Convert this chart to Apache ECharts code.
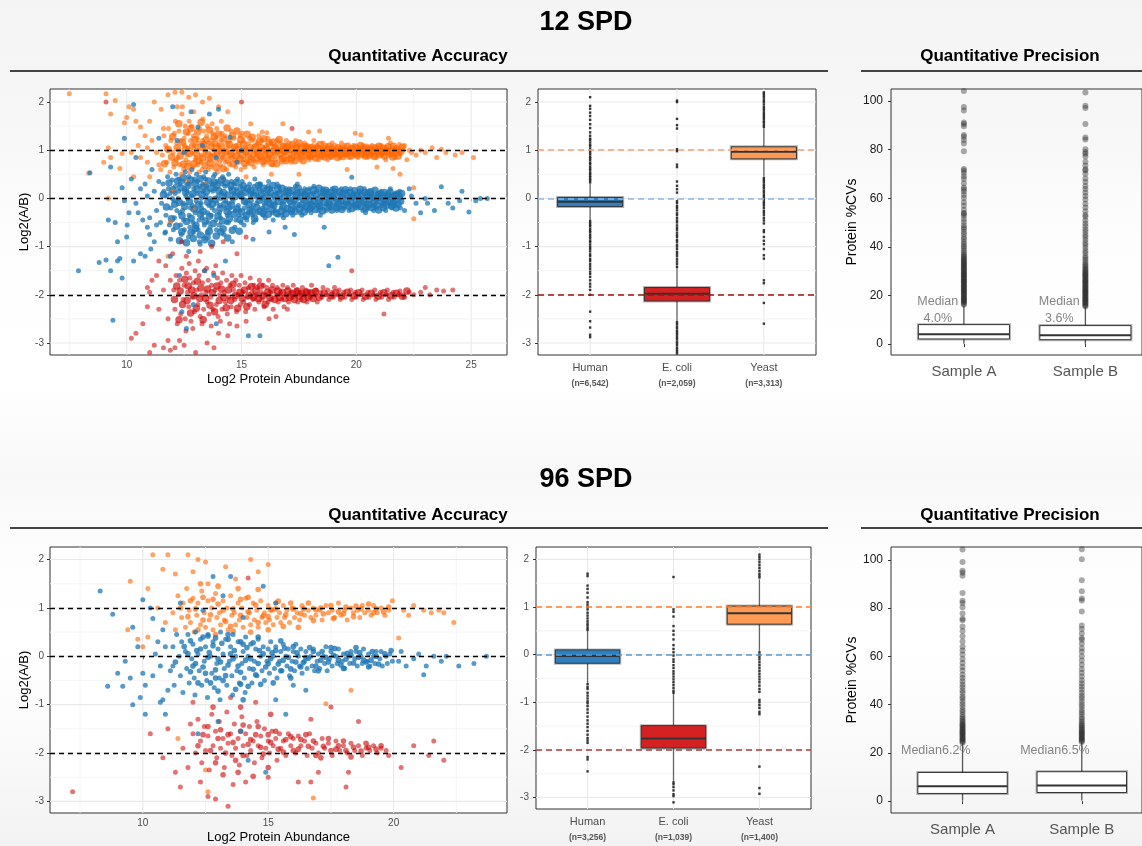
<!DOCTYPE html>
<html>
<head>
<meta charset="utf-8">
<title>12 SPD / 96 SPD quantitative accuracy and precision</title>
<script src="https://cdn.jsdelivr.net/npm/echarts@6/dist/echarts.min.js"></script>
<style>
  html, body { margin: 0; padding: 0; }
  #chart { width: 1142px; height: 846px; }
</style>
</head>
<body>
<div id="chart"></div>
<script>
// ---------- categories, ticks ----------
const species = ['Human', 'E. coli', 'Yeast'];
const expectedRatios = [0, -2, 1];            // Human, E. coli, Yeast
const spd12Counts = ['6,542', '2,059', '3,313'];
const spd96Counts = ['3,256', '1,039', '1,400'];
const samples = ['Sample A', 'Sample B'];

const ratioTicks = [-3, -2, -1, 0, 1, 2];
const ratioMinor = [-2.5, -1.5, -0.5, 0.5, 1.5];
const abundanceTicks12 = [10, 15, 20, 25];
const abundanceTicks96 = [10, 15, 20];
const abundanceMinor = [7.5, 12.5, 17.5, 22.5];
const cvTicks = [0, 20, 40, 60, 80, 100];

// ---------- 12 SPD: log2 abundance vs log2(A/B), flat [x, y, x, y, ...] ----------
const spd12Human = [
  7.9,-1.5, 8.4,0.53, 8.8,-1.33, 9.1,-1.28, 9.2,-0.45, 9.3,-1.5, 9.4,-2.53, 9.5,-0.5, 9.6,-1.3, 9.7,-1.25,
  9.8,-1.65, 9.8,0.22, 9.9,-0.05, 10.0,-0.8, 10.02,-0.55, 9.6,-0.9, 9.3,0.65, 9.9,1.25, 10.3,1.95, 10.4,0.85,
  10.3,-1.3, 10.6,-1.15, 10.5,-0.3, 10.7,-0.45, 10.1,-0.3, 10.2,0.4, 10.8,-1.2, 10.9,-0.6, 10.9,0.05, 11.0,-0.75,
  11.1,0.6, 11.3,-0.25, 11.2,-0.9, 11.4,1.25, 12.0,1.9, 12.8,1.8, 13.1,1.48, 13.6,1.75, 14.0,1.85, 14.5,1.27,
  15.0,1.0, 11.9,-1.2, 12.3,-1.6, 12.6,-2.7, 12.9,-2.2, 13.4,-1.5, 13.8,-1.6, 14.3,-1.3, 15.3,-2.85, 15.8,-2.85,
  17.3,-0.75, 18.6,-0.6, 19.2,-1.22, 18.8,-1.4, 19.8,0.44, 20.4,-0.3, 10.6,0.2, 10.8,0.3, 11.0,-0.4, 11.2,0.15,
  11.3,-0.55, 11.4,0.35, 10.4,-0.1, 11.05,-1.05, 12.2,1.2, 12.5,0.95, 13.3,1.1, 13.9,0.85, 14.8,0.75, 12.7,-1.1,
  13.2,-0.95, 14.6,-0.9, 15.5,-0.85, 16.2,-0.7, 16.9,-0.6, 12.4,-2.35, 13.9,-2.6,
  11.52,-0.1, 11.58,0.3, 11.47,-0.5, 11.62,0.15, 11.66,-0.72,
  11.71,-0.35, 11.75,0.05, 11.78,0.45, 11.69,-0.7, 11.81,0.2,
  11.88,0.1, 11.93,-0.2, 11.86,-0.55, 11.97,0.38, 11.91,-0.85, 11.99,0.0,
  12.06,-0.05, 12.12,0.25, 12.08,-0.4, 12.15,0.5, 12.03,-0.65, 12.18,-0.25, 12.11,0.1,
  12.26,0.15, 12.32,-0.3, 12.28,0.4, 12.35,-0.55, 12.24,0.0, 12.38,-0.75, 12.31,0.3,
  12.46,-0.1, 12.52,0.2, 12.48,-0.45, 12.55,0.55, 12.43,-0.25, 12.58,0.05, 12.51,-0.65, 12.44,0.35,
  12.66,0.0, 12.72,-0.35, 12.68,0.3, 12.75,-0.6, 12.63,0.15, 12.78,-0.2, 12.71,0.45, 12.69,-0.8,
  12.86,-0.15, 12.92,0.2, 12.88,-0.5, 12.95,0.4, 12.83,0.05, 12.98,-0.3, 12.91,-0.7, 12.84,0.6,
  13.06,0.1, 13.12,-0.25, 13.08,0.35, 13.15,-0.45, 13.03,-0.05, 13.18,0.25, 13.11,-0.65, 13.04,0.5, 13.16,-0.9,
  13.26,-0.2, 13.32,0.15, 13.28,-0.4, 13.35,0.45, 13.23,0.0, 13.38,-0.55, 13.31,0.3, 13.24,-0.1,
  13.46,0.05, 13.52,-0.3, 13.48,0.25, 13.55,-0.5, 13.43,0.4, 13.58,-0.15, 13.51,-0.7, 13.44,0.55,
  13.66,-0.05, 13.72,0.3, 13.68,-0.35, 13.75,0.15, 13.63,-0.6, 13.78,0.45, 13.71,-0.2, 13.64,0.0,
  13.86,0.2, 13.92,-0.1, 13.88,-0.45, 13.95,0.35, 13.83,-0.25, 13.98,0.05, 13.91,-0.65, 13.84,0.5,
  14.06,-0.15, 14.12,0.1, 14.08,-0.4, 14.15,0.3, 14.03,-0.55, 14.18,0.45, 14.11,0.0, 14.04,-0.3,
  14.26,0.05, 14.32,-0.2, 14.28,0.25, 14.35,-0.5, 14.23,0.4, 14.38,-0.35, 14.31,-0.05, 14.24,-0.75,
  14.46,-0.1, 14.52,0.2, 14.48,-0.3, 14.55,0.35, 14.43,-0.5, 14.58,0.0, 14.51,-0.2, 14.44,0.5,
  14.66,0.1, 14.72,-0.25, 14.68,0.3, 14.75,-0.45, 14.63,-0.05, 14.78,0.2, 14.71,-0.6,
  14.86,-0.15, 14.92,0.05, 14.88,-0.35, 14.95,0.25, 14.83,0.4, 14.98,-0.5, 14.91,-0.25,
  15.06,0.0, 15.12,-0.2, 15.08,0.2, 15.15,-0.4, 15.03,0.35, 15.18,-0.1, 15.11,-0.55,
  15.26,-0.05, 15.32,0.15, 15.28,-0.3, 15.35,0.3, 15.23,-0.45, 15.38,0.05,
  15.46,0.1, 15.52,-0.15, 15.48,-0.35, 15.55,0.25, 15.43,-0.05, 15.58,0.4, 15.51,-0.5,
  15.66,-0.1, 15.72,0.05, 15.68,-0.3, 15.75,0.2, 15.63,-0.45, 15.78,0.3,
  15.86,0.0, 15.92,-0.2, 15.88,0.15, 15.95,-0.35, 15.83,0.3, 15.98,-0.1,
  16.06,-0.05, 16.12,0.1, 16.08,-0.25, 16.15,0.25, 16.03,-0.4, 16.18,0.35,
  16.26,0.05, 16.32,-0.15, 16.28,0.2, 16.35,-0.3, 16.23,-0.05, 16.38,-0.45,
  16.46,-0.1, 16.52,0.1, 16.48,-0.25, 16.55,0.3, 16.43,0.0, 16.58,-0.35,
  16.66,0.0, 16.72,-0.2, 16.68,0.15, 16.75,-0.35, 16.63,0.25, 16.78,-0.1,
  16.86,-0.05, 16.92,0.1, 16.88,-0.25, 16.95,0.2, 16.83,-0.4,
  17.06,0.05, 17.12,-0.15, 17.08,0.2, 17.15,-0.3, 17.03,-0.05,
  17.26,-0.1, 17.32,0.1, 17.28,-0.2, 17.35,0.25, 17.23,-0.35,
  17.46,0.0, 17.52,-0.15, 17.48,0.15, 17.55,-0.3, 17.43,0.3,
  17.66,-0.05, 17.72,0.1, 17.68,-0.2, 17.75,0.2, 17.63,-0.35,
  17.86,0.05, 17.92,-0.1, 17.88,-0.25, 17.95,0.2, 17.83,0.0,
  18.06,-0.1, 18.12,0.1, 18.08,-0.2, 18.15,0.25, 18.03,-0.3,
  18.26,0.0, 18.32,-0.15, 18.28,0.15, 18.35,-0.25,
  18.46,-0.05, 18.52,0.1, 18.48,-0.2, 18.55,0.2, 18.43,-0.35,
  18.66,0.05, 18.72,-0.1, 18.68,-0.25, 18.75,0.15,
  18.86,-0.1, 18.92,0.05, 18.88,-0.2, 18.95,0.2, 18.83,0.0,
  19.06,0.0, 19.12,-0.15, 19.08,0.15, 19.15,-0.25,
  19.26,-0.05, 19.32,0.1, 19.28,-0.2, 19.35,0.2,
  19.46,0.05, 19.52,-0.1, 19.48,-0.2, 19.55,0.15,
  19.66,-0.1, 19.72,0.05, 19.68,-0.25, 19.75,0.2,
  19.86,0.0, 19.92,-0.15, 19.88,0.1, 19.95,-0.2,
  20.06,-0.05, 20.12,0.1, 20.08,-0.2, 20.15,0.15,
  20.26,0.0, 20.32,-0.1, 20.28,-0.25, 20.35,0.2,
  20.46,-0.1, 20.52,0.05, 20.48,-0.2, 20.55,0.15,
  20.66,0.05, 20.72,-0.15, 20.68,0.1, 20.75,-0.25,
  20.86,-0.05, 20.92,0.1, 20.88,-0.2,
  21.06,0.0, 21.12,-0.15, 21.08,0.15, 21.15,-0.1,
  21.26,-0.1, 21.32,0.05, 21.28,-0.25,
  21.46,0.05, 21.52,-0.1, 21.48,0.2, 21.55,-0.2,
  21.66,-0.05, 21.72,0.1, 21.68,-0.15,
  21.86,0.0, 21.92,-0.2, 21.88,0.15,
  22.3,0.2, 22.6,-0.1, 22.8,-0.3, 23.0,0.0, 23.1,-0.1, 23.4,-0.25, 23.7,0.24, 24.0,-0.1, 24.2,-0.2, 24.5,-0.05,
  24.6,0.15, 24.9,-0.28, 25.2,-0.05, 25.4,0.0, 25.7,0.0, 22.1,-0.25, 22.4,0.05
];
const spd12HumanDense = [
  11.6,0.08, 11.73,-0.18, 11.84,0.32, 11.95,-0.42, 12.02,0.18, 12.09,-0.12, 12.17,-0.58, 12.21,0.36, 12.29,-0.08, 12.36,0.22,
  12.41,-0.36, 12.47,0.43, 12.53,-0.17, 12.57,0.12, 12.61,-0.48, 12.67,0.27, 12.73,-0.07, 12.79,0.38, 12.81,-0.41, 12.87,0.09,
  12.93,-0.22, 12.97,0.31, 13.01,-0.56, 13.07,0.19, 13.13,-0.13, 13.19,0.41, 13.21,-0.33, 13.27,0.08, 13.33,-0.27, 13.37,0.24,
  13.41,-0.47, 13.47,0.14, 13.53,-0.08, 13.57,0.36, 13.61,-0.37, 13.67,0.21, 13.73,-0.12, 13.77,-0.52, 13.81,0.33, 13.87,-0.02,
  13.93,0.27, 13.97,-0.36, 14.01,0.16, 14.07,-0.21, 14.13,0.38, 14.17,-0.47, 14.21,0.12, 14.27,-0.12, 14.33,0.32, 14.37,-0.27,
  14.41,0.07, 14.47,-0.42, 14.53,0.27, 14.57,-0.14, 14.61,0.17, 14.67,-0.33, 14.73,0.04, 14.77,0.33, 14.81,-0.22, 14.87,0.13,
  14.93,-0.44, 14.97,0.08, 15.01,-0.28, 15.07,0.26, 15.13,-0.06, 15.17,0.12, 15.21,-0.36, 15.27,0.21, 15.33,-0.13, 15.37,-0.24,
  15.41,0.17, 15.47,-0.27, 15.53,0.06, 15.57,-0.41, 15.61,0.13, 15.67,-0.19, 15.73,0.27, 15.77,-0.04, 15.81,-0.26, 15.87,0.08,
  15.93,-0.31, 15.97,0.21, 16.01,0.03, 16.07,-0.17, 16.13,0.18, 16.17,-0.33, 16.21,-0.09, 16.27,0.12, 16.33,-0.22, 16.37,0.27,
  16.41,-0.14, 16.47,0.06, 16.53,-0.31, 16.57,0.19, 16.61,-0.06, 16.67,0.09, 16.73,-0.27, 16.77,0.21, 16.81,-0.15, 16.87,0.03,
  16.93,-0.32, 16.97,0.14, 17.01,-0.21, 17.07,0.11, 17.13,-0.06, 17.17,-0.24, 17.21,0.16, 17.27,-0.03, 17.33,-0.27, 17.37,0.07,
  17.41,-0.13, 17.47,0.21, 17.53,-0.22, 17.57,0.04, 17.61,0.12, 17.67,-0.11, 17.73,-0.28, 17.77,0.08, 17.81,-0.16, 17.87,0.14,
  17.93,-0.04, 17.97,-0.21, 18.01,0.06, 18.07,-0.16, 18.13,0.18, 18.17,-0.06, 18.21,-0.23, 18.27,0.08, 18.33,-0.11, 18.37,0.21,
  18.41,-0.16, 18.47,0.03, 18.53,-0.26, 18.57,0.12, 18.61,-0.08, 18.67,0.17, 18.73,-0.18, 18.77,0.02, 18.81,-0.13, 18.87,0.12,
  18.93,-0.24, 18.97,0.06, 19.01,-0.09, 19.07,0.19, 19.13,-0.19, 19.17,0.04, 19.21,-0.11, 19.27,0.13, 19.33,-0.06, 19.37,-0.23,
  19.41,0.09, 19.47,-0.14, 19.53,0.18, 19.57,-0.04, 19.61,0.06, 19.67,-0.16, 19.73,0.12, 19.77,-0.07, 19.81,-0.21, 19.87,0.04,
  19.93,0.16, 19.97,-0.12, 20.01,0.07, 20.07,-0.13, 20.13,-0.02, 20.17,0.19, 20.21,-0.17, 20.27,0.06, 20.33,-0.06, 20.37,0.12,
  20.41,-0.21, 20.47,0.08, 20.53,-0.13, 20.57,-0.03, 20.61,0.14, 20.67,-0.19, 20.73,0.03, 20.77,-0.09, 20.81,0.17, 20.87,-0.14,
  20.93,0.02, 20.97,-0.24, 21.01,0.09, 21.07,-0.06, 21.13,0.05, 21.17,-0.19, 21.21,0.12, 21.27,-0.03, 21.33,-0.14, 21.37,0.08,
  21.41,-0.07, 21.47,0.13, 21.53,-0.16, 21.57,0.02, 21.61,-0.09, 21.67,0.06, 21.73,-0.2, 21.77,0.09, 21.81,-0.12, 21.87,0.04,
  21.93,-0.06, 21.97,0.1,
  12.3,-0.88, 12.6,-0.92, 12.9,-0.83, 13.2,-0.76, 13.4,-0.86, 13.7,-0.93, 13.9,-0.78, 14.1,-0.7, 14.4,-0.82, 14.6,-0.66,
  14.9,-0.68, 12.4,-0.69, 13.0,-0.62, 13.5,-0.8, 14.2,-0.63, 13.6,-0.68, 12.8,-0.71
];

const spd12Yeast = [
  7.5,2.17, 9.1,2.17, 8.35,0.52, 9.0,0.75, 9.2,1.05, 9.3,0.85, 9.5,2.03, 9.3,1.75, 9.9,1.57, 10.0,1.68,
  10.1,1.9, 10.3,1.85, 10.4,1.6, 10.6,1.48, 10.8,1.3, 10.5,1.1, 9.8,0.93, 9.7,0.62, 10.2,0.95, 10.3,0.45,
  10.9,0.75, 10.6,0.85, 9.2,0.0, 11.0,1.6, 11.2,2.0, 11.5,1.85, 11.6,1.45, 11.8,2.15, 12.1,2.2, 12.4,2.2,
  12.7,2.1, 12.2,1.9, 13.0,2.15, 13.3,2.0, 13.6,2.08, 14.0,1.9, 14.4,1.8, 15.4,1.55, 15.9,1.38, 16.1,1.36,
  12.0,0.15, 11.9,-0.5, 11.8,-1.2, 11.1,1.2, 11.3,0.95, 11.4,0.7, 10.9,1.05, 11.0,0.45, 12.6,0.35, 13.4,0.3,
  14.2,0.4, 12.9,-0.2, 15.2,0.45, 16.3,0.5, 17.5,0.5, 18.4,1.4, 19.6,0.6, 20.2,1.32, 21.4,1.25, 21.6,0.62, 20.9,0.65,
  11.55,0.9, 11.62,1.3, 11.48,0.6, 11.7,1.1,
  11.75,0.75, 11.82,1.45, 11.78,1.0, 11.88,0.55, 11.92,1.2,
  12.02,0.95, 12.08,1.35, 12.05,0.65, 12.12,1.6, 12.15,0.8, 12.18,1.15,
  12.25,1.0, 12.3,0.7, 12.28,1.4, 12.35,1.2, 12.38,0.5, 12.22,0.85, 12.4,1.75,
  12.45,0.95, 12.5,1.25, 12.48,0.6, 12.55,1.5, 12.58,0.8, 12.52,1.1, 12.42,1.9,
  12.65,1.05, 12.7,0.75, 12.68,1.35, 12.75,0.55, 12.78,1.2, 12.62,0.9, 12.72,1.6,
  12.85,0.95, 12.9,1.3, 12.88,0.65, 12.95,1.1, 12.98,0.8, 12.82,1.5, 12.92,1.8,
  13.05,1.0, 13.1,0.7, 13.08,1.25, 13.15,0.55, 13.18,1.45, 13.02,0.85, 13.12,1.15,
  13.25,0.9, 13.3,1.2, 13.28,0.6, 13.35,1.4, 13.38,1.0, 13.22,0.75, 13.32,1.65,
  13.45,1.05, 13.5,0.8, 13.48,1.3, 13.55,0.6, 13.58,1.15, 13.42,0.95, 13.52,1.5,
  13.65,0.9, 13.7,1.2, 13.68,0.65, 13.75,1.35, 13.78,1.0, 13.62,0.8, 13.72,1.55,
  13.85,1.0, 13.9,0.75, 13.88,1.25, 13.95,0.55, 13.98,1.1, 13.82,0.9, 13.92,1.45,
  14.05,0.95, 14.1,1.2, 14.08,0.7, 14.15,1.35, 14.18,0.85, 14.02,1.05, 14.12,1.6,
  14.25,1.0, 14.3,0.75, 14.28,1.3, 14.35,0.6, 14.38,1.15, 14.22,0.9,
  14.45,0.95, 14.5,1.2, 14.48,0.7, 14.55,1.4, 14.58,0.85, 14.42,1.05,
  14.65,1.0, 14.7,0.8, 14.68,1.25, 14.75,0.65, 14.78,1.1, 14.62,0.9,
  14.85,0.95, 14.9,1.15, 14.88,0.75, 14.95,1.3, 14.98,0.6,
  15.05,1.0, 15.1,0.8, 15.08,1.2, 15.15,0.65, 15.18,1.05, 15.02,1.35,
  15.25,0.95, 15.3,1.15, 15.28,0.75, 15.35,1.25, 15.38,0.85,
  15.45,1.0, 15.5,0.8, 15.48,1.2, 15.55,0.65, 15.58,1.1,
  15.65,0.95, 15.7,1.15, 15.68,0.75, 15.75,1.3, 15.78,0.85,
  15.85,1.0, 15.9,0.8, 15.88,1.2, 15.95,0.7, 15.98,1.05,
  16.05,0.95, 16.1,1.1, 16.08,0.75, 16.15,1.25, 16.18,0.85,
  16.25,1.0, 16.3,0.8, 16.28,1.15, 16.35,0.7, 16.38,1.05,
  16.45,0.95, 16.5,1.1, 16.48,0.8, 16.55,1.2,
  16.65,1.0, 16.7,0.85, 16.68,1.15, 16.75,0.75, 16.78,1.05, 16.8,1.55,
  16.85,0.95, 16.9,1.1, 16.88,0.8, 16.95,1.2,
  17.05,1.0, 17.1,0.85, 17.08,1.15, 17.15,0.75,
  17.25,0.95, 17.3,1.1, 17.28,0.85, 17.35,1.2,
  17.45,1.0, 17.5,0.85, 17.48,1.1, 17.55,0.8,
  17.65,0.95, 17.7,1.1, 17.68,0.85, 17.75,1.15,
  17.85,1.0, 17.9,0.85, 17.88,1.1, 17.95,0.8, 17.92,1.38,
  18.05,0.95, 18.1,1.1, 18.08,0.85, 18.15,1.2,
  18.25,1.0, 18.3,0.9, 18.28,1.1, 18.35,0.8,
  18.45,0.95, 18.5,1.05, 18.48,0.85, 18.55,1.15,
  18.65,1.0, 18.7,0.9, 18.68,1.1, 18.75,0.8,
  18.85,0.95, 18.9,1.05, 18.88,0.85, 18.95,1.15,
  19.05,1.0, 19.1,0.9, 19.08,1.1,
  19.25,0.95, 19.3,1.05, 19.28,0.85, 19.35,1.15,
  19.45,1.0, 19.5,0.9, 19.48,1.1,
  19.65,0.95, 19.7,1.05, 19.68,0.85,
  19.85,1.0, 19.9,0.9, 19.88,1.1, 19.95,1.35,
  20.05,0.95, 20.1,1.05, 20.08,0.85,
  20.25,1.0, 20.3,0.9, 20.28,1.1,
  20.45,0.95, 20.5,1.05, 20.48,0.85,
  20.65,1.0, 20.7,0.9, 20.68,1.1,
  20.85,0.95, 20.9,1.05, 20.88,0.85,
  21.05,1.0, 21.1,0.9, 21.08,1.1,
  21.25,0.95, 21.3,1.05, 21.28,0.8,
  21.45,1.0, 21.5,0.9, 21.48,1.15,
  21.65,0.95, 21.7,1.05, 21.68,0.85,
  21.85,1.0, 21.9,0.92, 21.88,1.12,
  22.2,0.8, 22.3,1.0, 22.6,0.9, 22.8,1.0, 23.0,0.95, 23.3,1.05, 23.5,0.85, 23.7,1.02, 23.9,0.95, 24.3,0.9,
  24.6,0.95, 25.1,0.85, 21.9,0.5, 22.5,0.22, 22.5,-0.42, 22.1,1.1, 22.4,0.95
];
const spd12YeastDense = [
  11.64,0.72, 11.8,1.02, 11.95,0.86, 12.0,1.28, 12.1,0.74, 12.2,1.05, 12.27,1.55, 12.33,0.88, 12.43,1.16, 12.47,0.71,
  12.56,1.02, 12.6,1.38, 12.66,0.66, 12.74,0.93, 12.8,1.45, 12.87,1.08, 12.93,0.72, 12.97,1.22, 13.03,0.93, 13.09,1.38,
  13.14,0.78, 13.2,1.06, 13.24,1.58, 13.29,0.84, 13.36,1.12, 13.41,0.68, 13.46,1.21, 13.54,0.91, 13.6,1.42, 13.64,0.73,
  13.69,1.07, 13.76,0.86, 13.8,1.28, 13.86,1.13, 13.9,0.64, 13.96,0.96, 14.0,1.33, 14.07,0.82, 14.13,1.08, 14.2,0.62,
  14.24,1.23, 14.3,0.96, 14.37,1.46, 14.4,0.8, 14.47,1.12, 14.53,0.92, 14.6,1.3, 14.64,0.72, 14.7,1.06, 14.77,0.88,
  14.8,1.4, 14.87,1.02, 14.93,0.82, 14.97,1.22, 15.03,0.9, 15.09,1.12, 15.14,0.73, 15.2,0.97, 15.24,1.33, 15.31,0.86,
  15.37,1.05, 15.42,0.74, 15.47,1.27, 15.53,0.92, 15.6,1.06, 15.64,0.82, 15.71,0.96, 15.77,1.18, 15.82,0.88, 15.87,1.05,
  15.93,0.77, 15.97,1.24, 16.03,0.91, 16.09,1.02, 16.14,0.83, 16.2,1.15, 16.24,0.93, 16.31,0.73, 16.37,1.17, 16.42,0.9,
  16.47,1.05, 16.53,0.72, 16.6,1.0, 16.64,1.22, 16.71,0.92, 16.77,0.83, 16.82,1.08, 16.87,0.97, 16.93,0.78, 16.98,1.07,
  17.03,0.9, 17.11,1.02, 17.17,0.82, 17.22,1.12, 17.29,0.96, 17.33,0.78, 17.4,1.04, 17.44,0.91, 17.51,1.15, 17.57,0.92,
  17.62,1.03, 17.69,0.78, 17.73,0.97, 17.8,1.07, 17.84,0.91, 17.93,1.02, 17.98,0.88, 18.02,1.05, 18.11,0.92, 18.17,1.01,
  18.22,0.84, 18.31,1.04, 18.37,0.93, 18.42,1.12, 18.51,0.9, 18.57,1.0, 18.62,0.86, 18.71,1.03, 18.77,0.93, 18.82,1.08,
  18.91,0.88, 18.97,1.02, 19.02,0.93, 19.12,0.98, 19.18,0.85, 19.22,1.05, 19.32,0.92, 19.38,1.02, 19.42,0.87, 19.52,1.0,
  19.58,0.92, 19.62,1.08, 19.72,0.96, 19.78,0.88, 19.82,1.03, 19.92,0.95, 19.98,1.06, 20.02,0.9, 20.12,0.98, 20.18,1.1,
  20.22,0.92, 20.32,1.02, 20.38,0.88, 20.42,1.06, 20.52,0.96, 20.58,0.9, 20.62,1.04, 20.72,0.98, 20.78,0.87, 20.82,1.05,
  20.92,0.96, 20.98,1.08, 21.02,0.91, 21.12,0.98, 21.18,1.04, 21.22,0.88, 21.32,0.97, 21.38,1.07, 21.42,0.92, 21.52,1.0,
  21.58,0.86, 21.62,1.08, 21.72,0.95, 21.78,1.02, 21.82,0.88, 21.95,0.98, 22.0,1.06
];

const spd12Ecoli = [
  10.2,-2.9, 10.4,-2.8, 10.7,-2.6, 10.9,-1.85, 11.0,-1.95, 10.9,-2.25, 11.1,-1.7, 11.3,-1.6, 11.4,-2.3, 11.6,-3.1,
  11.2,-3.05, 11.0,-3.2, 11.8,-2.95, 11.9,-3.15, 12.1,-3.1, 12.3,-2.95, 12.5,-3.05, 13.0,-3.2, 13.5,-3.0, 13.8,-3.1,
  14.0,-2.8, 14.4,-2.85, 14.8,-2.65, 15.2,-2.55, 16.2,-2.5, 16.5,-2.45, 17.0,-2.3, 19.8,-1.5, 21.2,-2.4, 9.1,2.0,
  15.0,2.0, 17.2,1.45, 11.4,-1.3, 11.7,-1.4, 12.0,-1.15, 12.6,-1.2, 13.2,-1.1, 13.7,-1.0, 14.2,-0.9, 14.8,-1.15,
  15.2,-0.8, 12.4,-0.9, 11.6,-1.9, 11.8,-2.5, 11.9,-1.7,
  12.05,-1.9, 12.1,-2.3, 12.15,-1.6, 12.2,-2.6,
  12.25,-2.0, 12.3,-1.7, 12.35,-2.4, 12.4,-1.45,
  12.45,-2.1, 12.5,-1.8, 12.55,-2.5, 12.6,-1.55, 12.58,-2.75,
  12.65,-1.95, 12.7,-2.25, 12.75,-1.65, 12.8,-2.55, 12.72,-1.35,
  12.85,-2.05, 12.9,-1.75, 12.95,-2.35, 12.98,-1.5, 12.88,-2.7,
  13.05,-1.9, 13.1,-2.2, 13.15,-1.6, 13.2,-2.45, 13.12,-1.3,
  13.25,-2.0, 13.3,-1.75, 13.35,-2.3, 13.38,-1.5, 13.28,-2.6,
  13.45,-1.95, 13.5,-2.15, 13.55,-1.7, 13.58,-2.4, 13.48,-1.45,
  13.65,-2.05, 13.7,-1.8, 13.75,-2.3, 13.78,-1.55, 13.68,-2.65,
  13.85,-1.9, 13.9,-2.2, 13.95,-1.65, 13.98,-2.45, 13.88,-1.4,
  14.05,-2.0, 14.1,-1.75, 14.15,-2.3, 14.18,-1.55, 14.08,-2.55,
  14.25,-1.95, 14.3,-2.15, 14.35,-1.7, 14.38,-2.4,
  14.45,-2.05, 14.5,-1.8, 14.55,-2.25, 14.58,-1.6, 14.48,-2.6,
  14.65,-1.9, 14.7,-2.1, 14.75,-1.7, 14.78,-2.35,
  14.85,-2.0, 14.9,-1.8, 14.95,-2.2, 14.98,-1.6,
  15.05,-1.95, 15.1,-2.15, 15.15,-1.75, 15.18,-2.35,
  15.25,-2.05, 15.3,-1.85, 15.35,-2.2, 15.38,-1.65,
  15.45,-1.95, 15.5,-2.1, 15.55,-1.8, 15.58,-2.3,
  15.65,-2.0, 15.7,-1.85, 15.75,-2.15, 15.78,-1.7,
  15.85,-1.95, 15.9,-2.1, 15.95,-1.8, 15.98,-2.25,
  16.05,-2.0, 16.1,-1.85, 16.15,-2.15, 16.18,-1.7,
  16.25,-1.95, 16.3,-2.1, 16.35,-1.8, 16.38,-2.3,
  16.5,-2.0, 16.55,-1.85, 16.6,-2.15,
  16.7,-1.95, 16.75,-2.1, 16.8,-1.8, 16.85,-2.25,
  16.95,-2.0, 17.0,-1.85, 17.05,-2.15,
  17.15,-1.95, 17.2,-2.05, 17.25,-1.8,
  17.35,-2.0, 17.4,-1.9, 17.45,-2.15,
  17.55,-1.95, 17.6,-2.1, 17.65,-1.85,
  17.75,-2.0, 17.8,-1.9, 17.85,-2.15,
  17.95,-1.95, 18.0,-2.05, 18.05,-1.8,
  18.2,-2.0, 18.25,-1.9, 18.3,-2.15,
  18.45,-1.95, 18.5,-2.05, 18.55,-1.85,
  18.7,-2.0, 18.75,-1.9, 18.8,-2.1,
  18.95,-1.95, 19.0,-2.05, 19.05,-1.85,
  19.2,-2.0, 19.25,-1.9, 19.3,-2.1,
  19.45,-1.95, 19.5,-2.05,
  19.7,-2.0, 19.75,-1.9, 19.8,-2.1,
  19.95,-1.95, 20.0,-2.05,
  20.2,-2.0, 20.25,-1.9, 20.3,-2.1,
  20.5,-1.95, 20.55,-2.05,
  20.75,-2.0, 20.8,-1.9, 20.85,-2.1,
  21.05,-1.95, 21.1,-2.05,
  21.3,-2.0, 21.35,-1.9, 21.4,-2.1,
  21.6,-1.95, 21.65,-2.05,
  21.85,-2.0, 21.9,-1.92, 22.1,-2.05, 22.3,-1.95, 22.5,-2.0,
  22.8,-1.95, 23.2,-2.0, 23.5,-1.9, 23.8,-1.92, 24.2,-1.9, 23.0,-1.85
];
const spd12EcoliDense = [
  12.08,-2.1, 12.18,-1.82, 12.28,-2.52, 12.33,-1.92, 12.43,-2.2, 12.53,-1.68, 12.63,-2.12, 12.68,-1.82, 12.78,-2.38, 12.83,-1.9,
  12.93,-2.02, 13.03,-2.28, 13.08,-1.72, 13.18,-2.08, 13.23,-1.86, 13.33,-2.52, 13.43,-2.07, 13.53,-1.88, 13.63,-2.22, 13.73,-1.96,
  13.83,-2.35, 13.93,-1.82, 14.03,-2.12, 14.13,-1.88, 14.23,-2.05, 14.33,-2.27, 14.43,-1.9, 14.53,-2.12, 14.63,-1.78, 14.73,-2.02,
  14.83,-2.28, 14.93,-1.95, 15.03,-2.08, 15.13,-1.9, 15.23,-2.25, 15.33,-2.02, 15.43,-1.83, 15.53,-2.05, 15.63,-1.92, 15.73,-2.08,
  15.83,-1.82, 15.93,-2.02, 16.03,-2.2, 16.13,-1.95, 16.23,-2.06, 16.33,-1.9, 16.45,-2.1, 16.58,-1.92, 16.65,-2.05, 16.78,-1.95,
  16.9,-2.08, 17.02,-1.92, 17.1,-2.05, 17.22,-1.97, 17.3,-2.1, 17.42,-1.92, 17.5,-2.03, 17.62,-1.97, 17.7,-2.1, 17.82,-1.95,
  17.9,-2.05, 18.02,-1.96, 18.12,-2.08, 18.22,-1.93, 18.38,-2.05, 18.6,-1.97, 18.9,-2.02, 19.1,-1.96, 19.35,-2.03, 19.6,-1.95,
  19.9,-2.02, 20.1,-1.96, 20.4,-2.03, 20.65,-1.97, 20.95,-2.03, 21.2,-1.96, 21.5,-2.02, 21.75,-1.97, 22.0,-2.03, 22.2,-1.92
];

// ---------- 96 SPD scatter ----------
const spd96Human = [
  8.3,1.35, 8.8,0.87, 9.0,-0.35, 8.6,-0.62, 9.2,-0.62, 9.3,-0.1, 9.5,-0.45, 9.6,-1.0, 9.9,-0.85, 9.6,0.6,
  10.0,1.17, 10.3,1.0, 10.4,0.78, 9.8,0.2, 10.0,-0.35, 10.1,-0.6, 10.4,-0.4, 10.8,-0.9, 10.9,-1.2, 10.7,-0.95,
  11.0,-0.7, 10.6,0.3, 10.8,0.55, 10.1,-1.2, 11.2,-0.2, 11.5,1.1, 12.8,1.65, 13.5,1.65, 14.8,1.45, 15.3,1.1,
  13.2,1.25, 12.4,0.95, 14.0,0.8, 15.7,-1.2, 14.9,-2.4, 14.2,-2.15, 13.9,-1.55, 12.2,-1.6, 13.0,-1.35, 15.3,-0.9,
  16.0,-0.6, 16.5,-0.7, 10.5,0.05, 10.7,-0.2, 10.9,0.2,
  11.1,-0.3, 11.2,0.2, 11.25,-0.6, 11.35,0.45,
  11.45,0.0, 11.5,-0.4, 11.55,0.3, 11.6,-0.75,
  11.7,0.1, 11.75,-0.25, 11.8,0.45, 11.85,-0.55,
  11.95,-0.05, 12.0,0.25, 12.05,-0.45, 12.1,0.5, 12.08,-0.8,
  12.2,0.05, 12.25,-0.3, 12.3,0.35, 12.35,-0.6,
  12.45,-0.1, 12.5,0.2, 12.55,-0.5, 12.6,0.45, 12.58,-0.85,
  12.7,0.0, 12.75,-0.35, 12.8,0.3, 12.85,-0.65,
  12.95,-0.15, 13.0,0.15, 13.05,-0.45, 13.1,0.5, 13.08,-0.9,
  13.2,0.05, 13.25,-0.25, 13.3,0.35, 13.35,-0.6,
  13.45,-0.1, 13.5,0.2, 13.55,-0.4, 13.6,0.45, 13.58,-0.8,
  13.7,0.0, 13.75,-0.3, 13.8,0.3, 13.85,-0.55,
  13.95,-0.15, 14.0,0.1, 14.05,-0.45, 14.1,0.4, 14.08,-0.75,
  14.2,0.0, 14.25,-0.25, 14.3,0.25, 14.35,-0.55,
  14.45,-0.1, 14.5,0.15, 14.55,-0.4, 14.6,0.35,
  14.7,0.0, 14.75,-0.3, 14.8,0.2, 14.85,-0.5,
  14.95,-0.1, 15.0,0.15, 15.05,-0.35, 15.1,0.3,
  15.2,0.0, 15.25,-0.25, 15.3,0.2, 15.35,-0.45,
  15.45,-0.1, 15.5,0.1, 15.55,-0.3, 15.6,0.25,
  15.7,0.0, 15.75,-0.2, 15.8,0.15, 15.85,-0.4,
  15.95,-0.1, 16.0,0.1, 16.05,-0.3, 16.1,0.25,
  16.2,0.0, 16.25,-0.2, 16.3,0.15, 16.35,-0.35,
  16.45,-0.1, 16.5,0.1, 16.55,-0.25,
  16.7,0.0, 16.75,-0.2, 16.8,0.15, 16.85,-0.3,
  16.95,-0.1, 17.0,0.05, 17.05,-0.25,
  17.2,0.0, 17.25,-0.15, 17.3,0.2, 17.35,-0.3,
  17.45,-0.05, 17.5,0.1, 17.55,-0.2,
  17.7,0.0, 17.75,-0.15, 17.8,0.15,
  17.95,-0.1, 18.0,0.05, 18.05,-0.25,
  18.2,0.0, 18.25,-0.15, 18.3,0.1,
  18.45,-0.05, 18.5,0.1, 18.55,-0.2,
  18.7,0.0, 18.75,-0.15, 18.8,0.15,
  18.95,-0.1, 19.0,0.05, 19.05,-0.2,
  19.2,0.0, 19.25,-0.15, 19.3,0.1,
  19.45,-0.05, 19.5,0.1, 19.55,-0.2,
  19.7,0.0, 19.75,-0.15, 19.85,0.05, 19.95,-0.1,
  20.2,-0.1, 20.5,-0.2, 20.8,-0.05, 21.0,0.05, 21.3,-0.2, 21.6,0.0, 21.9,-0.1, 22.1,0.0, 22.6,-0.2, 23.2,-0.15,
  23.7,0.0, 21.2,-0.38, 20.3,0.1
];
const spd96HumanDense = [
  11.3,-0.12, 11.65,0.2, 11.9,-0.32, 12.15,0.12, 12.4,-0.22, 12.65,0.08, 12.9,-0.28, 13.15,0.27, 13.4,-0.18, 13.65,0.12,
  13.9,-0.33, 14.15,0.18, 14.4,-0.27, 14.65,0.12, 14.9,-0.22, 15.15,0.07, 15.4,-0.16, 15.65,0.17, 15.9,-0.26, 16.15,0.07,
  16.4,-0.13, 16.65,0.18, 16.9,-0.2, 17.15,0.1, 17.4,-0.12, 17.65,0.16, 17.9,-0.18, 18.15,0.06, 18.4,-0.14, 18.65,0.08,
  18.9,-0.12, 19.15,0.1, 19.4,-0.16, 19.65,0.05, 19.9,0.12, 12.1,-0.15, 12.6,-0.02, 13.1,-0.12, 13.6,-0.05, 14.1,-0.08,
  14.6,-0.15, 15.1,-0.05, 15.6,-0.08, 16.1,-0.12, 16.6,-0.04, 17.1,-0.08, 17.6,0.02, 18.1,-0.06, 18.6,-0.02, 19.1,-0.08,
  11.9,0.32, 12.4,0.4, 12.9,0.38, 13.4,0.35, 13.9,0.3, 14.4,0.28, 12.7,-0.55, 13.2,-0.5, 13.7,-0.68, 14.2,-0.62,
  14.7,-0.58, 15.2,-0.55, 13.0,-0.72, 14.0,-0.9,
  11.8,0.05, 12.0,-0.2, 12.3,0.15, 12.5,-0.35, 12.8,0.22, 13.0,-0.05, 13.3,-0.4, 13.5,0.05, 13.8,-0.2, 14.0,0.25,
  14.3,-0.05, 14.5,-0.38, 14.8,0.05, 15.0,-0.15, 15.3,0.12, 15.5,-0.3, 15.8,-0.02, 16.0,0.2, 16.3,-0.22, 16.5,-0.02,
  16.8,0.1, 17.0,-0.3, 17.3,-0.02, 17.5,0.18, 17.8,-0.08, 18.0,-0.25, 18.3,0.02, 18.5,0.18, 18.8,-0.08, 19.0,-0.22,
  19.3,0.0, 12.2,-0.55, 12.9,-0.45, 13.4,0.45, 14.6,0.4, 15.5,0.32, 12.6,0.42, 13.9,-0.58, 15.9,-0.45
];

const spd96Yeast = [
  9.4,0.55, 9.8,0.35, 10.0,0.2, 10.2,0.4, 9.5,1.55, 10.2,1.4, 10.8,1.8, 10.4,2.1, 11.0,2.1, 11.8,2.1,
  12.2,2.0, 12.5,1.95, 12.0,1.75, 13.3,1.85, 13.7,1.6, 14.3,2.0, 15.0,1.9, 14.6,1.75, 11.3,1.7, 12.6,1.5,
  18.3,-0.7, 17.3,-0.98, 16.8,-2.93, 12.5,-2.35, 12.6,-2.8, 11.4,-1.7, 10.6,1.0, 10.9,0.7,
  11.2,0.9, 11.3,0.55, 11.4,1.25,
  11.55,0.8, 11.6,1.1, 11.7,0.6, 11.75,1.4,
  11.85,0.95, 11.9,0.7, 12.0,1.2, 12.05,0.5,
  12.15,0.85, 12.2,1.1, 12.3,0.65, 12.35,1.35,
  12.45,0.9, 12.5,0.6, 12.6,1.15, 12.65,0.75,
  12.75,1.0, 12.8,0.55, 12.9,1.3, 12.95,0.8,
  13.05,0.9, 13.1,0.65, 13.2,1.15, 13.25,0.75,
  13.35,1.0, 13.4,0.55, 13.5,1.25, 13.55,0.85,
  13.65,0.9, 13.7,0.65, 13.8,1.1, 13.85,0.75,
  13.95,1.0, 14.0,0.6, 14.1,1.2, 14.15,0.8,
  14.25,0.9, 14.3,0.65, 14.4,1.1, 14.45,0.75,
  14.55,0.95, 14.6,0.6, 14.7,1.15, 14.75,0.8,
  14.85,0.9, 14.9,0.7, 15.0,1.05, 15.05,0.75,
  15.15,0.95, 15.2,0.65, 15.3,1.1, 15.35,0.8,
  15.45,0.9, 15.5,0.7, 15.6,1.05, 15.65,0.8,
  15.75,0.95, 15.85,0.7, 15.95,1.0, 16.05,0.8,
  16.15,0.9, 16.25,0.75, 16.35,1.05, 16.45,0.85,
  16.6,0.95, 16.7,0.8, 16.8,1.0, 16.9,0.85,
  17.05,0.95, 17.15,0.75, 17.3,1.05, 17.4,0.9,
  17.55,0.95, 17.65,0.8, 17.8,1.1, 17.9,0.85,
  18.05,0.95, 18.15,0.75, 18.3,1.0, 18.4,0.9,
  18.55,0.95, 18.65,0.8, 18.75,1.05, 18.85,0.9,
  19.0,0.95, 19.1,0.85, 19.2,1.05, 19.35,0.9, 19.5,1.0, 19.65,0.85, 19.8,0.95, 19.95,1.15,
  20.4,0.95, 20.6,0.85, 20.8,1.05, 21.2,0.95, 21.5,0.9, 21.8,0.95, 22.0,0.9, 22.4,0.7, 20.2,0.38
];
const spd96YeastDense = [
  11.5,1.0, 11.8,0.82, 12.1,0.98, 12.4,1.22, 12.7,0.86, 13.0,1.08, 13.3,0.72, 13.6,0.98, 13.9,1.18, 14.2,0.92,
  14.5,1.06, 14.8,0.84, 15.1,0.96, 15.4,1.14, 15.7,0.86, 16.0,0.98, 16.3,0.88, 16.6,1.1, 16.9,0.96, 17.2,0.88,
  17.5,1.05, 17.8,0.92, 18.1,1.02, 18.4,0.82, 18.7,0.98, 19.0,1.08, 19.3,0.98, 19.6,0.92, 12.2,0.55, 12.9,0.45,
  13.6,0.52, 14.3,0.5, 15.0,0.55, 16.2,0.6, 12.3,1.5, 13.0,1.45, 13.8,1.4, 14.6,1.38,
  11.9,1.15, 12.4,0.75, 12.8,1.18, 13.2,0.95, 13.5,0.62, 13.9,0.85, 14.2,1.22, 14.6,0.7, 15.0,0.82, 15.3,0.98,
  15.6,0.62, 15.9,1.1, 16.4,0.98, 16.8,0.74, 17.1,1.0, 17.6,0.78, 18.0,0.88, 18.5,1.04, 19.2,0.9, 19.8,1.02
];

const spd96Ecoli = [
  7.2,-2.8, 10.3,-1.6, 11.0,-1.5, 10.8,-2.1, 11.3,-2.4, 11.5,-2.7, 11.8,-2.3, 12.3,-2.6, 12.6,-2.9, 12.9,-2.95,
  13.4,-3.1, 13.6,-2.65, 14.1,-2.6, 15.0,-2.5, 16.2,-2.6, 16.7,-2.6, 17.0,-2.4, 18.1,-2.7, 18.2,-2.4, 20.3,-2.3,
  21.4,-2.05, 22.0,-2.15, 21.6,-1.75, 20.8,-1.85, 19.8,-2.05, 16.7,-1.3, 17.5,-1.05, 18.6,-1.35, 12.0,-0.95, 13.5,-0.85,
  14.5,-0.95, 14.2,1.62, 11.6,-1.9, 11.9,-1.4,
  12.0,-1.6, 12.1,-2.0, 12.2,-1.3,
  12.3,-1.75, 12.35,-2.2, 12.45,-1.45, 12.5,-1.95,
  12.6,-1.65, 12.65,-2.35, 12.75,-1.2, 12.8,-1.85,
  12.9,-1.55, 12.95,-2.1, 13.05,-1.35, 13.1,-1.9,
  13.2,-1.7, 13.25,-2.3, 13.35,-1.15, 13.4,-1.8,
  13.5,-1.6, 13.55,-2.05, 13.65,-1.4, 13.7,-1.9,
  13.8,-1.7, 13.85,-2.25, 13.95,-1.25, 14.0,-1.85,
  14.1,-1.6, 14.15,-2.05, 14.25,-1.45, 14.3,-1.95,
  14.4,-1.75, 14.45,-2.2, 14.55,-1.35, 14.6,-1.85,
  14.7,-1.65, 14.75,-2.1, 14.85,-1.5, 14.9,-1.9,
  15.0,-1.75, 15.05,-2.0, 15.15,-1.55, 15.2,-1.85,
  15.3,-1.7, 15.35,-2.15, 15.45,-1.6, 15.5,-1.9,
  15.6,-1.75, 15.7,-2.05, 15.8,-1.6, 15.9,-1.85,
  16.0,-1.7, 16.1,-2.0, 16.2,-1.65, 16.3,-1.85,
  16.45,-1.75, 16.55,-2.05, 16.65,-1.6, 16.75,-1.9,
  16.9,-1.8, 17.0,-2.0, 17.15,-1.7, 17.25,-1.9,
  17.4,-1.8, 17.55,-2.05, 17.7,-1.75, 17.85,-1.95,
  18.0,-1.85, 18.15,-2.0, 18.3,-1.8, 18.45,-1.95,
  18.6,-1.85, 18.75,-2.05, 18.9,-1.9, 19.05,-1.95, 19.2,-1.85, 19.35,-2.0, 19.5,-1.9, 19.7,-1.95
];
const spd96EcoliDense = [
  12.4,-1.62, 12.7,-1.95, 13.0,-1.7, 13.3,-2.0, 13.6,-1.78, 13.9,-1.55, 14.2,-1.82, 14.5,-1.62, 14.8,-2.02, 15.1,-1.78,
  15.4,-1.92, 15.7,-1.72, 16.0,-1.95, 16.3,-1.72, 16.6,-1.86, 16.9,-2.05, 17.2,-1.86, 17.5,-1.95, 17.8,-1.85, 18.1,-1.95,
  18.4,-1.88, 18.7,-1.96, 19.0,-1.88, 19.3,-1.92, 13.2,-2.45, 13.8,-2.4, 14.4,-2.48, 15.0,-2.3, 12.8,-1.05, 13.9,-1.05,
  15.1,-1.2, 14.0,-2.05, 14.6,-1.45,
  12.2,-1.85, 12.6,-1.45, 12.9,-2.2, 13.1,-1.52, 13.4,-1.62, 13.7,-2.15, 14.0,-1.42, 14.3,-1.72, 14.7,-1.88, 15.0,-1.62,
  15.3,-1.55, 15.6,-1.98, 15.9,-1.66, 16.2,-1.92, 16.5,-1.62, 16.8,-1.75, 17.1,-2.1, 17.4,-1.7, 17.7,-1.92, 18.0,-1.75,
  18.3,-2.08, 18.9,-1.8, 19.5,-1.85
];

// ---------- box statistics for log2(A/B) by species (Human, E. coli, Yeast) ----------
const acc12Low  = [-0.45, -2.55, 0.45];
const acc12Q1   = [-0.17, -2.13, 0.82];
const acc12Med  = [-0.07, -1.98, 0.97];
const acc12Q3   = [0.02, -1.85, 1.07];
const acc12High = [0.3, -1.4, 1.45];

const acc96Low  = [-0.6, -2.65, 0.08];
const acc96Q1   = [-0.18, -1.96, 0.64];
const acc96Med  = [-0.03, -1.76, 0.87];
const acc96Q3   = [0.1, -1.49, 1.02];
const acc96High = [0.5, -0.82, 1.58];

const acc12OutHuman = [0.33,0.37,0.4,0.44,0.47,0.51,0.54,0.59,0.62,0.66,0.71,0.74,0.79,0.83,0.86,0.91,0.95,0.99,1.03,1.08,1.11,1.16,1.21,1.24,1.3,1.37,1.46,1.54,1.63,1.71,1.78,1.86,1.92,2.1,
  -0.47,-0.51,-0.55,-0.58,-0.63,-0.67,-0.7,-0.75,-0.79,-0.83,-0.88,-0.91,-0.96,-1.01,-1.05,-1.1,-1.16,-1.2,-1.26,-1.3,-1.36,-1.41,-1.46,-1.52,-1.57,-1.63,-1.7,-1.77,-1.83,-1.9,-2.0,-2.35,-2.55,-2.68,-2.83,-2.88];
const acc12OutEcoli = [2.03,2.0,1.65,1.52,1.45,1.02,0.98,0.7,0.65,0.35,0.26,0.19,0.12,-0.06,-0.1,-0.16,-0.2,-0.25,-0.31,-0.35,-0.41,-0.46,-0.5,-0.56,-0.61,-0.65,-0.71,-0.76,-0.8,-0.86,-0.9,-0.96,-1.0,-1.05,-1.11,-1.15,-1.2,-1.26,-1.31,-1.36,-1.42,
  -2.57,-2.61,-2.66,-2.7,-2.75,-2.79,-2.83,-2.88,-2.92,-2.97,-3.01,-3.05,-3.1,-3.14,-3.18,-3.22];
const acc12OutYeast = [1.48,1.52,1.57,1.6,1.65,1.69,1.73,1.77,1.82,1.86,1.9,1.95,2.0,2.04,2.09,2.13,2.17,2.2,
  0.42,0.38,0.34,0.29,0.25,0.21,0.16,0.12,0.07,0.03,-0.02,-0.07,-0.11,-0.15,-0.2,-0.26,-0.3,-0.35,-0.41,-0.46,-0.52,-0.66,-0.7,-0.8,-0.88,-0.95,-1.05,-1.18,-1.25,-1.7,-1.76,-2.17,-2.6];

const acc96OutHuman = [0.52,0.56,0.61,0.65,0.7,0.76,0.82,0.88,0.95,1.0,1.05,1.1,1.2,1.3,1.38,1.45,1.65,1.7,
  -0.62,-0.68,-0.72,-0.8,-0.86,-0.92,-0.98,-1.02,-1.08,-1.15,-1.22,-1.3,-1.38,-1.45,-1.52,-1.6,-1.68,-1.75,-1.8,-1.85,-2.15,-2.2,-2.45];
const acc96OutEcoli = [1.63,0.95,0.9,0.8,0.6,0.5,0.42,0.32,0.2,0.12,0.05,-0.02,-0.1,-0.15,-0.22,-0.28,-0.35,-0.4,-0.46,-0.52,-0.58,-0.64,-0.7,-0.76,-0.8,
  -2.68,-2.72,-2.78,-2.85,-2.93,-2.97,-3.1];
const acc96OutYeast = [1.62,1.66,1.7,1.76,1.82,1.88,1.94,2.0,2.05,2.1,
  0.05,0.0,-0.05,-0.1,-0.16,-0.22,-0.28,-0.34,-0.4,-0.46,-0.52,-0.58,-0.65,-0.72,-0.78,-0.95,-1.0,-1.06,-1.12,-1.2,-1.25,-2.35,-2.8,-2.92];

// ---------- protein %CV box statistics (Sample A, Sample B) ----------
const prec12Low  = [0.1, 0.1];
const prec12Q1   = [2.1, 1.8];
const prec12Med  = [4.0, 3.6];
const prec12Q3   = [8.0, 7.6];
const prec12High = [15.8, 15.3];

const prec96Low  = [0.2, 0.3];
const prec96Q1   = [3.2, 3.6];
const prec96Med  = [6.2, 6.5];
const prec96Q3   = [11.9, 12.2];
const prec96High = [23.9, 24.4];

const prec12OutA = [16.2,16.6,17.1,17.5,17.8,18.3,18.7,19.0,19.4,19.9,20.3,20.6,21.1,21.4,21.9,22.3,22.6,23.1,23.5,23.8,24.2,24.7,25.0,25.5,25.9,26.2,26.7,27.1,27.4,27.9,28.3,28.6,29.1,29.5,29.9,30.3,30.8,31.2,31.6,32.1,32.5,33.0,33.4,33.9,34.3,34.8,35.3,35.8,36.4,37.0,
  37.8,38.6,39.5,40.3,41.2,42.0,43.1,44.0,45.2,46.1,47.3,48.0,48.9,50.2,51.5,52.8,53.6,54.0,55.3,56.9,58.4,60.1,61.5,62.8,63.7,64.5,66.2,68.0,69.1,70.4,71.5,72.1,
  79.4,82.6,84.0,85.3,86.1,89.7,90.6,91.2,96.2,97.6,104.2];
const prec12OutB = [15.5,15.9,16.3,16.8,17.2,17.5,18.0,18.4,18.7,19.2,19.6,19.9,20.4,20.8,21.1,21.6,22.0,22.3,22.8,23.2,23.5,24.0,24.4,24.8,25.3,25.7,26.0,26.5,26.9,27.3,27.8,28.2,28.6,29.1,29.5,30.0,30.5,31.0,31.6,32.2,32.9,
  33.7,34.6,35.4,36.3,37.5,38.4,39.6,40.8,41.7,42.9,44.1,45.0,46.2,47.3,48.5,49.6,50.9,52.4,53.1,54.7,56.2,57.8,59.5,61.0,62.4,63.8,65.1,66.7,68.2,70.1,71.4,72.0,
  73.5,75.1,77.2,78.3,79.1,80.2,84.2,85.0,90.6,97.2,98.1,103.6];
const prec96OutA = [24.2,24.6,25.0,25.5,25.9,26.3,26.8,27.2,27.6,28.1,28.5,28.9,29.4,29.8,30.3,30.7,31.2,31.7,32.2,32.8,33.4,34.1,34.9,
  35.8,36.9,37.8,39.0,40.2,41.3,42.5,43.4,44.8,45.9,47.2,48.3,49.7,51.0,52.4,54.1,55.6,57.2,58.9,60.8,62.4,64.0,66.1,68.3,70.5,72.4,75.0,75.6,77.8,80.3,82.1,83.0,86.2,
  93.4,94.6,95.5,99.1,104.3];
const prec96OutB = [24.5,24.9,25.4,25.8,26.2,26.7,27.1,27.6,28.0,28.5,28.9,29.4,29.9,30.4,31.0,31.6,32.3,33.0,
  33.9,34.8,35.9,36.8,37.9,39.1,40.2,41.4,42.6,43.7,44.9,46.3,47.5,48.8,50.1,51.6,53.2,54.8,56.5,58.3,60.0,61.9,63.4,65.2,66.9,67.6,69.5,71.3,72.8,
  78.6,83.1,84.0,87.0,91.5,100.2,104.4];

// ---------- styling ----------
const FONT = '"Liberation Sans", Arial, Helvetica, sans-serif';
const pointColors = { human: '#1f77b4', yeast: '#ff6600', ecoli: '#cc0000' };
const boxFills = ['#2f80c0', '#d42222', '#ff9a55'];          // Human, E. coli, Yeast
const refColors12 = ['#8fb8e8', '#a01010', '#f5a07c'];
const refColors96 = ['#5a9bd5', '#b03a3a', '#ff7f2a'];

function toPairs(flat) {
  const out = [];
  for (let i = 0; i < flat.length; i += 2) out.push([flat[i], flat[i + 1]]);
  return out;
}
function outlierPairs(lists) {
  const out = [];
  lists.forEach((vals, i) => vals.forEach(v => out.push([i + 1, v])));
  return out;
}

// ---------- panel layout ----------
const grids = [
  { left: 50,  top: 89,  width: 457, height: 266, show: true, backgroundColor: '#fff', borderColor: '#333', borderWidth: 1 },
  { left: 538, top: 89,  width: 278, height: 266, show: true, backgroundColor: '#fff', borderColor: '#333', borderWidth: 1 },
  { left: 891, top: 89,  width: 252, height: 266, show: true, backgroundColor: 'transparent', borderColor: '#333', borderWidth: 1 },
  { left: 50,  top: 547, width: 457, height: 266, show: true, backgroundColor: '#fff', borderColor: '#333', borderWidth: 1 },
  { left: 536, top: 547, width: 275, height: 266, show: true, backgroundColor: '#fff', borderColor: '#333', borderWidth: 1 },
  { left: 891, top: 547, width: 252, height: 266, show: true, backgroundColor: 'transparent', borderColor: '#333', borderWidth: 1 }
];

const tickStyle = { length: 3, lineStyle: { color: '#333', width: 1 } };

function valueAxis(gi, min, max, ticks, label, extra) {
  return Object.assign({
    type: 'value', gridIndex: gi, min: min, max: max,
    axisLine: { show: false },
    splitLine: { show: false },
    axisTick: Object.assign({ customValues: ticks }, tickStyle),
    axisLabel: Object.assign({ customValues: ticks, fontFamily: FONT }, label)
  }, extra || {});
}

const smallLabel = { color: '#4d4d4d', fontSize: 10 };

function boxXAxis(gi, counts) {
  return valueAxis(gi, 0.4, 3.6, [1, 2, 3], {
    color: '#4d4d4d', fontSize: 11, lineHeight: 16, margin: 5,
    formatter: v => species[Math.round(v) - 1] + '\n{n|(n=' + counts[Math.round(v) - 1] + ')}',
    rich: { n: { fontSize: 8.5, fontWeight: 'bold', color: '#555', lineHeight: 16, fontFamily: FONT } }
  });
}
function precXAxis(gi, max) {
  return valueAxis(gi, 0.4, max, [1, 2], {
    color: '#555', fontSize: 15, margin: 9,
    formatter: v => samples[Math.round(v) - 1]
  });
}

const xAxes = [
  valueAxis(0, 6.66, 26.56, abundanceTicks12, Object.assign({ margin: 5 }, smallLabel),
    { name: 'Log2 Protein Abundance', nameLocation: 'middle', nameGap: 18,
      nameTextStyle: { fontSize: 13, color: '#000', fontFamily: FONT } }),
  boxXAxis(1, spd12Counts),
  precXAxis(2, 2.466),
  valueAxis(3, 6.3, 24.52, abundanceTicks96, Object.assign({ margin: 5 }, smallLabel),
    { name: 'Log2 Protein Abundance', nameLocation: 'middle', nameGap: 18,
      nameTextStyle: { fontSize: 13, color: '#000', fontFamily: FONT } }),
  boxXAxis(4, spd96Counts),
  precXAxis(5, 2.505)
];

const yAxes = [
  valueAxis(0, -3.25, 2.27, ratioTicks, Object.assign({ margin: 6 }, smallLabel),
    { name: 'Log2(A/B)', nameLocation: 'middle', nameGap: 19,
      nameTextStyle: { fontSize: 13, color: '#000', fontFamily: FONT } }),
  valueAxis(1, -3.25, 2.27, ratioTicks, Object.assign({ margin: 7 }, smallLabel)),
  valueAxis(2, -4.5, 105, cvTicks, { color: '#1a1a1a', fontSize: 12, margin: 8 },
    { name: 'Protein %CVs', nameLocation: 'middle', nameGap: 24,
      nameTextStyle: { fontSize: 14, color: '#000', fontFamily: FONT } }),
  valueAxis(3, -3.24, 2.26, ratioTicks, Object.assign({ margin: 6 }, smallLabel),
    { name: 'Log2(A/B)', nameLocation: 'middle', nameGap: 19,
      nameTextStyle: { fontSize: 13, color: '#000', fontFamily: FONT } }),
  valueAxis(4, -3.24, 2.26, ratioTicks, Object.assign({ margin: 7 }, smallLabel)),
  valueAxis(5, -4.9, 105.3, cvTicks, { color: '#1a1a1a', fontSize: 12, margin: 8 },
    { name: 'Protein %CVs', nameLocation: 'middle', nameGap: 24,
      nameTextStyle: { fontSize: 14, color: '#000', fontFamily: FONT } })
];

// ---------- series builders ----------
// light panel grid lines (major + minor), drawn through the axes
function gridLineSeries(gi, xMajor, xMinor, yMajor, yMinor) {
  const data = [];
  xMajor.forEach(v => data.push([0, v, 1]));
  xMinor.forEach(v => data.push([0, v, 0]));
  yMajor.forEach(v => data.push([1, v, 1]));
  yMinor.forEach(v => data.push([1, v, 0]));
  return {
    type: 'custom', xAxisIndex: gi, yAxisIndex: gi, z: 1, silent: true, animation: false,
    data: data,
    renderItem(params, api) {
      const cs = params.coordSys;
      const major = api.value(2) === 1;
      const style = { stroke: major ? '#e9e9e9' : '#f3f3f3', lineWidth: major ? 1.1 : 0.9 };
      if (api.value(0) === 0) {
        const px = api.coord([api.value(1), 0])[0];
        return { type: 'line', shape: { x1: px, y1: cs.y, x2: px, y2: cs.y + cs.height }, style };
      }
      const py = api.coord([0, api.value(1)])[1];
      return { type: 'line', shape: { x1: cs.x, y1: py, x2: cs.x + cs.width, y2: py }, style };
    }
  };
}

// size: marker diameter; core clouds use a slightly larger marker so the dense bands read as solid
function scatterSeries(gi, flat, color, opacity, z, size) {
  return {
    type: 'scatter', xAxisIndex: gi, yAxisIndex: gi, data: toPairs(flat),
    symbol: 'circle', symbolSize: size, z: z, silent: true, animation: false,
    itemStyle: { color: color, opacity: opacity, borderWidth: 0 }
  };
}

function refLineSeries(gi, values, colors, width, dash) {
  return {
    type: 'scatter', xAxisIndex: gi, yAxisIndex: gi, data: [], z: 6, silent: true, animation: false,
    markLine: {
      silent: true, symbol: ['none', 'none'], animation: false, label: { show: false },
      data: values.map((v, i) => ({ yAxis: v, lineStyle: { color: colors[i], width: width, type: dash } }))
    }
  };
}

function boxSeries(gi, low, q1, med, q3, high, fills, whiskerColor, medianWidth) {
  const data = low.map((_, i) => ({
    value: [i + 1, low[i], q1[i], med[i], q3[i], high[i]],
    itemStyle: { color: fills[i] }
  }));
  return {
    type: 'custom', xAxisIndex: gi, yAxisIndex: gi, z: 3, silent: true, animation: false,
    encode: { x: 0, y: [1, 2, 3, 4, 5] },
    data: data,
    renderItem(params, api) {
      const c = api.value(0);
      const pLo = api.coord([c, api.value(1)]);
      const pQ1 = api.coord([c, api.value(2)]);
      const pMd = api.coord([c, api.value(3)]);
      const pQ3 = api.coord([c, api.value(4)]);
      const pHi = api.coord([c, api.value(5)]);
      const hw = api.size([0.75, 0])[0] / 2;
      const x = pMd[0];
      const fill = api.visual('color');
      const rect = { x: x - hw, y: pQ3[1], width: 2 * hw, height: pQ1[1] - pQ3[1] };
      return {
        type: 'group', children: [
          { type: 'line', shape: { x1: x, y1: pLo[1], x2: x, y2: pQ1[1] }, style: { stroke: whiskerColor, lineWidth: 1.3 } },
          { type: 'line', shape: { x1: x, y1: pQ3[1], x2: x, y2: pHi[1] }, style: { stroke: whiskerColor, lineWidth: 1.3 } },
          { type: 'rect', shape: rect, style: { fill: 'none', stroke: 'rgba(0,0,0,0.28)', lineWidth: 3 } },
          { type: 'rect', shape: rect, style: { fill: fill, stroke: '#333', lineWidth: 1 } },
          { type: 'line', shape: { x1: x - hw, y1: pMd[1], x2: x + hw, y2: pMd[1] }, style: { stroke: '#333', lineWidth: medianWidth } }
        ]
      };
    }
  };
}

function accOutlierSeries(gi, lists) {
  return {
    type: 'scatter', xAxisIndex: gi, yAxisIndex: gi, data: outlierPairs(lists), z: 4,
    symbol: 'rect', symbolSize: 2.4, silent: true, animation: false,
    itemStyle: { color: '#222', opacity: 0.9 }
  };
}
function precOutlierSeries(gi, lists) {
  return {
    type: 'scatter', xAxisIndex: gi, yAxisIndex: gi, data: outlierPairs(lists), z: 4,
    symbol: 'circle', symbolSize: 6, silent: true, animation: false,
    itemStyle: { color: '#2a2a2a', opacity: 0.4 }
  };
}
function medianLabelSeries(gi, med, labelY, offset, formatter) {
  return {
    type: 'scatter', xAxisIndex: gi, yAxisIndex: gi, z: 5, silent: true, animation: false,
    symbolSize: 0,
    data: med.map((m, i) => [i + 1 + offset, labelY, m]),
    label: {
      show: true, position: 'inside', color: '#666', fontSize: 12.5, lineHeight: 17, fontFamily: FONT,
      formatter: p => formatter(p.value[2])
    }
  };
}

const series = [
  // 12 SPD accuracy scatter
  gridLineSeries(0, abundanceTicks12, abundanceMinor, ratioTicks, ratioMinor),
  scatterSeries(0, spd12YeastDense, pointColors.yeast, 0.7, 2, 7.5),
  scatterSeries(0, spd12EcoliDense, pointColors.ecoli, 0.65, 2, 7.5),
  scatterSeries(0, spd12HumanDense, pointColors.human, 0.8, 2, 7.5),
  scatterSeries(0, spd12Yeast, pointColors.yeast, 0.6, 3, 5),
  scatterSeries(0, spd12Ecoli, pointColors.ecoli, 0.55, 3, 5),
  scatterSeries(0, spd12Human, pointColors.human, 0.75, 4, 5),
  refLineSeries(0, expectedRatios, ['#000', '#000', '#000'], 1.3, [5, 4]),
  // 12 SPD accuracy box plot
  gridLineSeries(1, [1, 2, 3], [], ratioTicks, ratioMinor),
  boxSeries(1, acc12Low, acc12Q1, acc12Med, acc12Q3, acc12High, boxFills, '#666', 2),
  accOutlierSeries(1, [acc12OutHuman, acc12OutEcoli, acc12OutYeast]),
  refLineSeries(1, expectedRatios, refColors12, 1.5, [6, 4]),
  // 12 SPD precision
  boxSeries(2, prec12Low, prec12Q1, prec12Med, prec12Q3, prec12High, ['#fff', '#fff'], '#555', 2),
  precOutlierSeries(2, [prec12OutA, prec12OutB]),
  medianLabelSeries(2, prec12Med, 14, -0.215, m => 'Median\n' + m.toFixed(1) + '%'),
  // 96 SPD accuracy scatter
  gridLineSeries(3, abundanceTicks96, abundanceMinor, ratioTicks, ratioMinor),
  scatterSeries(3, spd96YeastDense, pointColors.yeast, 0.65, 2, 5.6),
  scatterSeries(3, spd96EcoliDense, pointColors.ecoli, 0.6, 2, 5.6),
  scatterSeries(3, spd96HumanDense, pointColors.human, 0.8, 2, 5.6),
  scatterSeries(3, spd96Yeast, pointColors.yeast, 0.6, 3, 5),
  scatterSeries(3, spd96Ecoli, pointColors.ecoli, 0.55, 3, 5),
  scatterSeries(3, spd96Human, pointColors.human, 0.75, 4, 5),
  refLineSeries(3, expectedRatios, ['#000', '#000', '#000'], 1.3, [5, 4]),
  // 96 SPD accuracy box plot
  gridLineSeries(4, [1, 2, 3], [], ratioTicks, ratioMinor),
  boxSeries(4, acc96Low, acc96Q1, acc96Med, acc96Q3, acc96High, boxFills, '#666', 2),
  accOutlierSeries(4, [acc96OutHuman, acc96OutEcoli, acc96OutYeast]),
  refLineSeries(4, expectedRatios, refColors96, 1.5, [6, 4]),
  // 96 SPD precision
  boxSeries(5, prec96Low, prec96Q1, prec96Med, prec96Q3, prec96High, ['#fff', '#fff'], '#555', 2),
  precOutlierSeries(5, [prec96OutA, prec96OutB]),
  medianLabelSeries(5, prec96Med, 21, -0.225, m => 'Median' + m.toFixed(1) + '%')
];

// ---------- headings and rules ----------
function heading(text, x, y, size) {
  return {
    type: 'text', x: x, y: y, silent: true,
    style: { text: text, font: 'bold ' + size + 'px ' + FONT, fill: '#000',
             textAlign: 'center', textVerticalAlign: 'middle', align: 'center', verticalAlign: 'middle' }
  };
}
function rule(x1, x2, y) {
  return { type: 'line', silent: true, shape: { x1: x1, y1: y, x2: x2, y2: y }, style: { stroke: '#444', lineWidth: 2 } };
}

const graphics = [
  heading('12 SPD', 586, 23, 27),
  heading('Quantitative Accuracy', 418, 56, 17),
  heading('Quantitative Precision', 1010, 56, 17),
  rule(10, 828, 71),
  rule(861, 1142, 71),
  heading('96 SPD', 586, 480, 27),
  heading('Quantitative Accuracy', 418, 515, 17),
  heading('Quantitative Precision', 1010, 515, 17),
  rule(10, 828, 528),
  rule(861, 1142, 528)
];

const chart = echarts.init(document.getElementById('chart'), null, { renderer: 'canvas' });
chart.setOption({
  animation: false,
  backgroundColor: new echarts.graphic.LinearGradient(0, 0, 0, 1, [
    { offset: 0, color: '#f4f4f4' },
    { offset: 0.15, color: '#f7f7f7' },
    { offset: 0.28, color: '#fdfdfd' },
    { offset: 0.45, color: '#ffffff' },
    { offset: 0.56, color: '#f8f8f8' },
    { offset: 0.66, color: '#fdfdfd' },
    { offset: 0.76, color: '#ffffff' },
    { offset: 0.88, color: '#fafafa' },
    { offset: 1, color: '#f2f2f2' }
  ]),
  textStyle: { fontFamily: FONT },
  grid: grids,
  xAxis: xAxes,
  yAxis: yAxes,
  series: series,
  graphic: graphics
});
</script>
</body>
</html>
